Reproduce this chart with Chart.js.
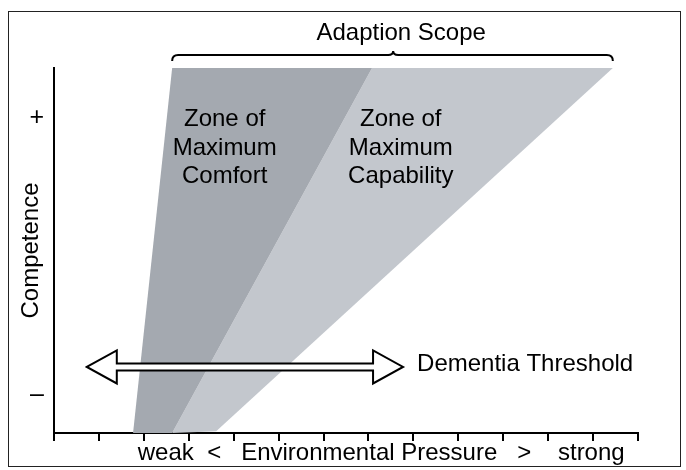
<!DOCTYPE html>
<html>
<head>
<meta charset="utf-8">
<script src="https://cdn.jsdelivr.net/npm/chart.js@4.4.1/dist/chart.umd.min.js"></script>
<style>
html, body { margin: 0; padding: 0; background: #fff; }
#wrap { width: 686px; height: 470px; }
</style>
</head>
<body>
<div id="wrap"><canvas id="chart"></canvas></div>
<script>
// axis ranges (x: environmental pressure, y: competence)
const xMin = 0, xMax = 13;
const yMin = 0, yMax = 10;

// zone polygons, in axis units
const comfortX = [2.63, 7.08, 2.63, 1.76];
const comfortY = [10, 10, 0, 0];
const capabilityX = [7.08, 12.44, 3.61, 2.63];
const capabilityY = [10, 10, 0.05, 0];

// y tick labels
const yTickValues = [1.04, 8.63];
const yTickLabels = ['\u2013', '+'];

// texts
const xTitle = 'weak  <   Environmental Pressure   >    strong  ';
const yTitle = 'Competence';
const scopeTitle = 'Adaption Scope';
const comfortLabel = ['Zone of', 'Maximum', 'Comfort'];
const capabilityLabel = ['Zone of', 'Maximum', 'Capability'];
const thresholdLabel = 'Dementia Threshold';

// annotation anchors, in axis units
const braceFrom = 2.63, braceTo = 12.44, braceTip = 7.55;
const thresholdY = 1.81, thresholdFrom = 0.73, thresholdTo = 7.77;
const comfortLabelX = 3.8, capabilityLabelX = 7.72;

Chart.defaults.font.family = '"Liberation Sans", Arial, sans-serif';
Chart.defaults.color = '#000';

const FONT = '24px "Liberation Sans", Arial, sans-serif';

const annotations = {
    id: 'annotations',
    afterDraw(chart) {
        const { ctx, scales: { x, y } } = chart;
        ctx.save();

        // outer frame
        ctx.strokeStyle = '#222';
        ctx.lineWidth = 1;
        ctx.strokeRect(8.5, 11.5, 672, 455);

        // brace over the adaption scope
        const bx0 = x.getPixelForValue(braceFrom);
        const bx1 = x.getPixelForValue(braceTo);
        const bm = x.getPixelForValue(braceTip);
        const by = 55;
        ctx.strokeStyle = '#000';
        ctx.lineWidth = 2;
        ctx.beginPath();
        ctx.moveTo(bx0, by + 6);
        ctx.quadraticCurveTo(bx0, by, bx0 + 6, by);
        ctx.lineTo(bm - 5, by);
        ctx.quadraticCurveTo(bm, by, bm, by - 4);
        ctx.quadraticCurveTo(bm, by, bm + 5, by);
        ctx.lineTo(bx1 - 6, by);
        ctx.quadraticCurveTo(bx1, by, bx1, by + 6);
        ctx.stroke();

        ctx.fillStyle = '#000';
        ctx.font = FONT;
        ctx.textAlign = 'center';
        ctx.textBaseline = 'alphabetic';
        ctx.fillText(scopeTitle, bm + 8, 40);

        // zone labels
        comfortLabel.forEach((t, i) => {
            ctx.fillText(t, x.getPixelForValue(comfortLabelX), 126 + i * 28.5);
        });
        capabilityLabel.forEach((t, i) => {
            ctx.fillText(t, x.getPixelForValue(capabilityLabelX), 126 + i * 28.5);
        });

        // dementia threshold double arrow
        const xl = x.getPixelForValue(thresholdFrom);
        const xr = x.getPixelForValue(thresholdTo);
        const yc = y.getPixelForValue(thresholdY);
        const head = 30, half = 16.5, shaft = 3.5;
        ctx.beginPath();
        ctx.moveTo(xl, yc);
        ctx.lineTo(xl + head, yc - half);
        ctx.lineTo(xl + head, yc - shaft);
        ctx.lineTo(xr - head, yc - shaft);
        ctx.lineTo(xr - head, yc - half);
        ctx.lineTo(xr, yc);
        ctx.lineTo(xr - head, yc + half);
        ctx.lineTo(xr - head, yc + shaft);
        ctx.lineTo(xl + head, yc + shaft);
        ctx.lineTo(xl + head, yc + half);
        ctx.closePath();
        ctx.fillStyle = '#fff';
        ctx.fill();
        ctx.lineWidth = 2;
        ctx.stroke();

        ctx.fillStyle = '#000';
        ctx.textAlign = 'left';
        ctx.fillText(thresholdLabel, xr + 14, yc + 4);

        ctx.restore();
    }
};

const config = {
    type: 'scatter',
    data: {
        datasets: [
            {
                type: 'line',
                data: comfortX.map((v, i) => ({ x: v, y: comfortY[i] })),
                fill: 'shape',
                backgroundColor: '#a4a9b0',
                borderColor: 'rgba(0,0,0,0)',
                borderWidth: 0,
                pointRadius: 0
            },
            {
                type: 'line',
                data: capabilityX.map((v, i) => ({ x: v, y: capabilityY[i] })),
                fill: 'shape',
                backgroundColor: '#c3c7cd',
                borderColor: 'rgba(0,0,0,0)',
                borderWidth: 0,
                pointRadius: 0
            }
        ]
    },
    options: {
        responsive: true,
        maintainAspectRatio: false,
        animation: false,
        layout: { padding: { left: 0, top: 68, right: 48, bottom: 0 } },
        plugins: {
            legend: { display: false },
            tooltip: { enabled: false }
        },
        scales: {
            x: {
                type: 'linear',
                min: xMin,
                max: xMax,
                ticks: { stepSize: 1, display: false },
                grid: { drawOnChartArea: false, drawTicks: true, tickLength: 8, color: '#000', lineWidth: 2 },
                border: { color: '#000', width: 2 },
                title: {
                    display: true,
                    text: xTitle,
                    align: 'end',
                    font: { size: 24 },
                    padding: { top: 0, bottom: 2 }
                },
                afterFit: s => { s.height = 37; }
            },
            y: {
                type: 'linear',
                min: yMin,
                max: yMax,
                afterBuildTicks: s => { s.ticks = yTickValues.map(v => ({ value: v })); },
                ticks: {
                    callback: v => yTickLabels[yTickValues.indexOf(v)],
                    font: { size: 25 },
                    padding: 10
                },
                grid: { display: false, drawTicks: false },
                border: { color: '#000', width: 2 },
                title: {
                    display: true,
                    text: yTitle,
                    font: { size: 24 },
                    padding: { top: 17, bottom: 0 }
                },
                afterFit: s => { s.width = 54; }
            }
        }
    },
    plugins: [annotations]
};

new Chart(document.getElementById('chart'), config);
</script>
</body>
</html>
